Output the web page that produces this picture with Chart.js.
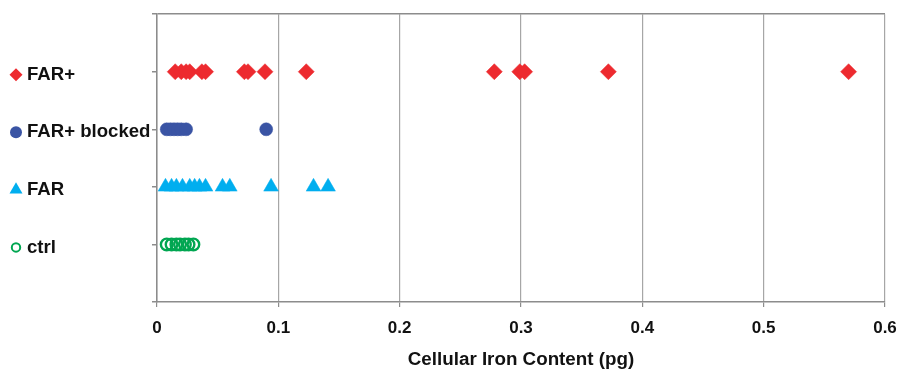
<!DOCTYPE html>
<html>
<head>
<meta charset="utf-8">
<script src="https://cdn.jsdelivr.net/npm/chart.js@4"></script>
<style>
  body { margin: 0; background: #fff; }
  #wrap { width: 899px; height: 370px; position: relative; }
</style>
</head>
<body>
<div id="wrap"><canvas id="chartIron"></canvas></div>
<script>
// grupos (de arriba a abajo) y su posición en el eje y
const groups = ['FAR+', 'FAR+ blocked', 'FAR', 'ctrl'];
const groupY = [4, 3, 2, 1];

// contenido de hierro celular (pg) por grupo
const farPlus = [0.015, 0.020, 0.024, 0.027, 0.037, 0.040, 0.072, 0.075, 0.089, 0.123, 0.278, 0.299, 0.303, 0.372, 0.570];
const farPlusBlocked = [0.008, 0.011, 0.014, 0.017, 0.020, 0.024, 0.090];
const far = [0.007, 0.012, 0.016, 0.021, 0.027, 0.031, 0.035, 0.040, 0.054, 0.060, 0.094, 0.129, 0.141];
const ctrl = [0.008, 0.012, 0.016, 0.019, 0.023, 0.026, 0.030];

const xTicks = [0, 0.1, 0.2, 0.3, 0.4, 0.5, 0.6];

const styles = [
  { pointStyle: 'rectRot', color: '#ED2A2F', radius: 8, legendR: 6.5, fill: true },
  { pointStyle: 'circle', color: '#3A54A4', radius: 6.5, legendR: 6, fill: true },
  { pointStyle: 'triangle', color: '#00AEEF', radius: 8.5, legendR: 7.5, fill: true },
  { pointStyle: 'circle', color: '#00A651', radius: 5.8, legendR: 4.2, fill: false }
];

const seriesValues = [farPlus, farPlusBlocked, far, ctrl];

const datasets = seriesValues.map((vals, i) => ({
  label: groups[i],
  data: vals.map(v => ({ x: v, y: groupY[i] })),
  pointStyle: styles[i].pointStyle,
  pointRadius: styles[i].radius,
  backgroundColor: styles[i].fill ? styles[i].color : 'rgba(0,0,0,0)',
  borderColor: styles[i].color,
  borderWidth: styles[i].fill ? 0.5 : 2.4
}));

// marcadores de la leyenda a la izquierda de cada etiqueta
const legendMarkers = {
  id: 'legendMarkers',
  afterDraw(chart) {
    const ctx = chart.ctx;
    const yScale = chart.scales.y;
    ctx.save();
    groups.forEach((g, i) => {
      const s = styles[i];
      const x = 16;
      const y = yScale.getPixelForValue(groupY[i]) + 3;
      const r = s.legendR;
      ctx.beginPath();
      if (s.pointStyle === 'rectRot') {
        ctx.moveTo(x, y - r); ctx.lineTo(x + r, y); ctx.lineTo(x, y + r); ctx.lineTo(x - r, y);
        ctx.closePath();
      } else if (s.pointStyle === 'triangle') {
        const h = r * 1.5;
        const w = r * Math.sqrt(3) / 2;
        ctx.moveTo(x, y - h * 2 / 3); ctx.lineTo(x + w, y + h / 3); ctx.lineTo(x - w, y + h / 3);
        ctx.closePath();
      } else {
        ctx.arc(x, y, r, 0, Math.PI * 2);
      }
      if (s.fill) {
        ctx.fillStyle = s.color;
        ctx.fill();
      } else {
        ctx.strokeStyle = s.color;
        ctx.lineWidth = 2;
        ctx.stroke();
      }
    });
    ctx.restore();
  }
};

const ctxIron = document.getElementById('chartIron').getContext('2d');
new Chart(ctxIron, {
  type: 'scatter',
  data: { datasets },
  options: {
    responsive: true,
    maintainAspectRatio: false,
    animation: false,
    layout: { padding: { top: 13, right: 14, left: 27, bottom: 0 } },
    plugins: {
      legend: { display: false },
      tooltip: { enabled: false }
    },
    scales: {
      x: {
        type: 'linear',
        min: xTicks[0],
        max: xTicks[xTicks.length - 1],
        afterBuildTicks: (scale) => { scale.ticks = xTicks.map(v => ({ value: v })); },
        afterFit: (scale) => { scale.height = 68; scale.paddingRight = 0; scale.paddingLeft = 0; },
        border: { color: '#8C8C8C', width: 1.5 },
        grid: { color: '#A6A6A6', lineWidth: 1.2, tickLength: 5, tickColor: '#8C8C8C' },
        ticks: {
          padding: 11,
          color: '#111',
          font: { family: "'Liberation Sans', Arial, sans-serif", size: 17, weight: 'bold' },
          callback: (v) => v === 0 ? '0' : v.toFixed(1)
        },
        title: {
          display: true,
          text: 'Cellular Iron Content (pg)',
          color: '#111',
          padding: { top: 0, bottom: -1 },
          font: { family: "'Liberation Sans', Arial, sans-serif", size: 18.8, weight: 'bold' }
        }
      },
      y: {
        type: 'linear',
        min: 0,
        max: 5,
        afterBuildTicks: (scale) => { scale.ticks = [0, 1, 2, 3, 4, 5].map(v => ({ value: v })); },
        afterFit: (scale) => { scale.width = 130; },
        border: { color: '#8C8C8C', width: 1.5 },
        grid: {
          color: (c) => c.tick && c.tick.value === 5 ? '#8C8C8C' : 'rgba(0,0,0,0)',
          lineWidth: 1.5,
          tickLength: 5,
          tickColor: '#8C8C8C'
        },
        ticks: {
          crossAlign: 'far',
          labelOffset: 3,
          color: '#111',
          font: { family: "'Liberation Sans', Arial, sans-serif", size: 18.6, weight: 'bold' },
          callback: (v) => {
            const i = groupY.indexOf(v);
            return i >= 0 ? groups[i] : '';
          }
        }
      }
    }
  },
  plugins: [legendMarkers]
});
</script>
</body>
</html>
